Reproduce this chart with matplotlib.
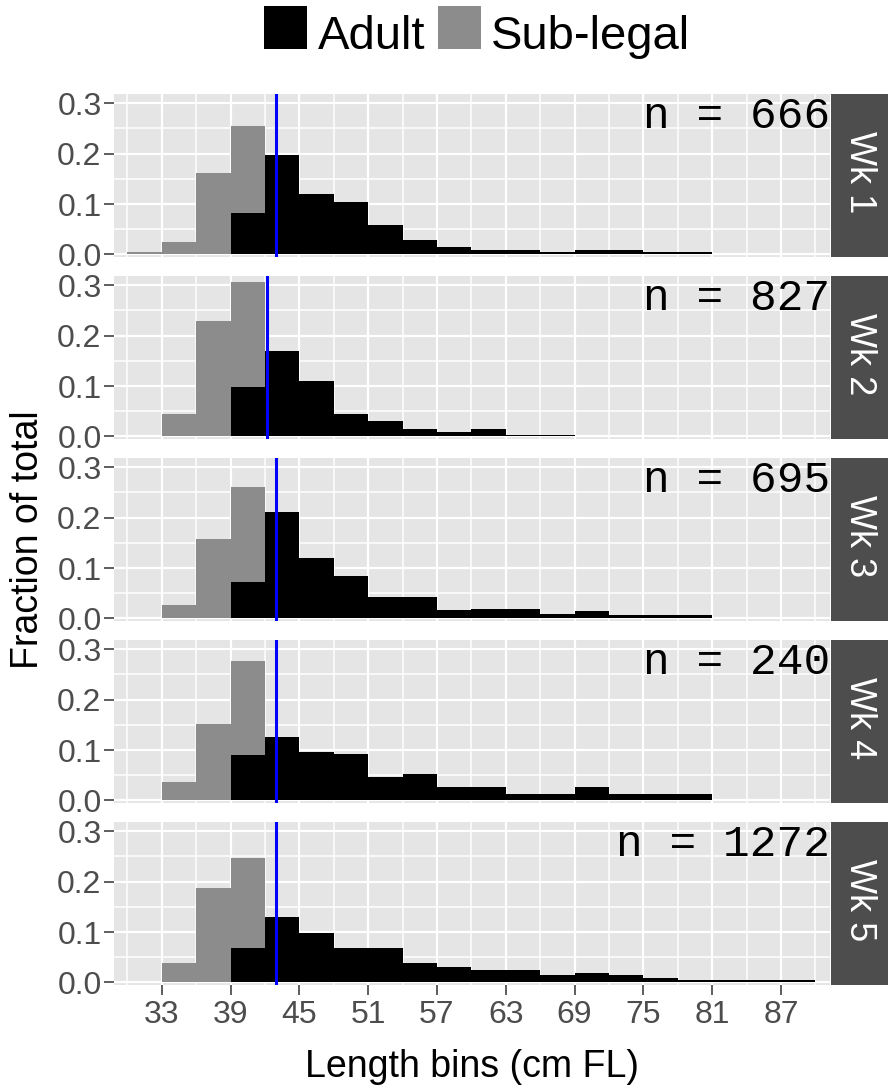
#!/usr/bin/env python

import numpy as np
import matplotlib
matplotlib.use('Agg')
import matplotlib.pyplot as plt
from matplotlib.patches import Rectangle

plt.rcParams['font.family'] = ['Liberation Sans', 'DejaVu Sans']

# length bins (left edge, cm FL), 3 cm wide
bin_left = [30, 33, 36, 39, 42, 45, 48, 51, 54, 57, 60, 63, 66, 69, 72, 75, 78, 81, 84, 87]

weeks = ['Wk 1', 'Wk 2', 'Wk 3', 'Wk 4', 'Wk 5']
n_fish = [666, 827, 695, 240, 1272]
cutoff = [43.0, 42.2, 43.0, 43.0, 43.0]

sub_wk1 = [0.005, 0.025, 0.162, 0.172, 0, 0, 0, 0, 0, 0, 0, 0, 0, 0, 0, 0, 0, 0, 0, 0]
adult_wk1 = [0, 0, 0, 0.0825, 0.198, 0.119, 0.1035, 0.058, 0.029, 0.015, 0.009, 0.009, 0.005,
             0.0085, 0.0085, 0.005, 0.005, 0, 0, 0]

sub_wk2 = [0, 0.0446, 0.2295, 0.2076, 0, 0, 0, 0, 0, 0, 0, 0, 0, 0, 0, 0, 0, 0, 0, 0]
adult_wk2 = [0, 0, 0, 0.0978, 0.170, 0.110, 0.045, 0.030, 0.014, 0.008, 0.014, 0.0033, 0.0033,
             0, 0, 0, 0, 0, 0, 0]

sub_wk3 = [0, 0.026, 0.158, 0.187, 0, 0, 0, 0, 0, 0, 0, 0, 0, 0, 0, 0, 0, 0, 0, 0]
adult_wk3 = [0, 0, 0, 0.0727, 0.211, 0.119, 0.084, 0.042, 0.042, 0.016, 0.0195, 0.0195, 0.0097,
             0.0156, 0.0065, 0.0065, 0.0065, 0, 0, 0]

sub_wk4 = [0, 0.036, 0.151, 0.187, 0, 0, 0, 0, 0, 0, 0, 0, 0, 0, 0, 0, 0, 0, 0, 0]
adult_wk4 = [0, 0, 0, 0.0896, 0.125, 0.0956, 0.0916, 0.0464, 0.0518, 0.0259, 0.0259, 0.0125, 0.0125,
             0.0259, 0.0125, 0.0125, 0.0125, 0, 0, 0]

sub_wk5 = [0, 0.0386, 0.188, 0.179, 0, 0, 0, 0, 0, 0, 0, 0, 0, 0, 0, 0, 0, 0, 0, 0]
adult_wk5 = [0, 0, 0, 0.068, 0.129, 0.0976, 0.068, 0.068, 0.0386, 0.031, 0.025, 0.025, 0.0157,
             0.019, 0.0157, 0.0092, 0.0046, 0.0046, 0.0046, 0.0046]

sub_all = [sub_wk1, sub_wk2, sub_wk3, sub_wk4, sub_wk5]
adult_all = [adult_wk1, adult_wk2, adult_wk3, adult_wk4, adult_wk5]

W, H = 888, 1089
fig = plt.figure(figsize=(W / 100, H / 100), dpi=100)

def fx(px):
    return px / W

def fy(py):
    return 1 - py / H

grey_bar = '#8C8C8C'
left, right = 114, 830
ph = 163

for i in range(5):
    top = 94 + 182 * i
    ax = fig.add_axes([fx(left), fy(top + ph), (right - left) / W, ph / H])
    ax.set_facecolor('#E5E5E5')
    ax.bar(bin_left, adult_all[i], width=3, align='edge', color='black', linewidth=0)
    ax.bar(bin_left, sub_all[i], width=3, align='edge', bottom=adult_all[i], color=grey_bar, linewidth=0)
    ax.axvline(cutoff[i], color='blue', lw=2.2)
    ax.set_xlim(28.84, 91.27)
    ax.set_ylim(-0.005, 0.318)
    ax.set_xticks(np.arange(33, 90, 6))
    ax.set_xticks(np.arange(30, 91, 6), minor=True)
    ax.set_yticks([0, 0.1, 0.2, 0.3])
    ax.set_yticks([0.05, 0.15, 0.25], minor=True)
    ax.set_yticklabels(['0.0', '0.1', '0.2', '0.3'])
    ax.set_axisbelow(True)
    ax.grid(which='major', color='white', lw=1.6)
    ax.grid(which='minor', color='white', lw=1.1)
    for s in ax.spines.values():
        s.set_visible(False)
    ax.tick_params(which='major', length=7, width=1.1, color='#333333',
                   labelsize=23, labelcolor='#4D4D4D', pad=2)
    ax.tick_params(which='minor', length=0)
    if i < 4:
        ax.tick_params(axis='x', which='major', bottom=False, labelbottom=False)
    else:
        ax.tick_params(axis='x', pad=4)
    ax.text(1.0, 1 - 34.5 / ph, 'n = %d' % n_fish[i], transform=ax.transAxes,
            ha='right', va='baseline', fontsize=32, family='Liberation Mono', color='black')

    # facet strip
    fig.add_artist(Rectangle((fx(831), fy(top + ph)), (W - 831) / W, ph / H,
                             transform=fig.transFigure, color='#4D4D4D', lw=0))
    fig.text(fx(859.5), fy(top + ph / 2 - 3), weeks[i], rotation=-90, ha='center', va='center',
             color='white', fontsize=26)

# axis titles
fig.text(fx(472), fy(1077), 'Length bins (cm FL)', ha='center', va='baseline', fontsize=27)
fig.text(fx(28), fy(540), 'Fraction of total', ha='center', va='center', rotation=90, fontsize=27)

# legend on top
fig.add_artist(Rectangle((fx(264), fy(49)), 43 / W, 43 / H, transform=fig.transFigure,
                         color='black', lw=0))
fig.text(fx(318), fy(49), 'Adult', ha='left', va='baseline', fontsize=34)
fig.add_artist(Rectangle((fx(438), fy(49)), 43 / W, 43 / H, transform=fig.transFigure,
                         color=grey_bar, lw=0))
fig.text(fx(491), fy(49), 'Sub-legal', ha='left', va='baseline', fontsize=34)

fig.savefig('out.png', dpi=100, facecolor='white')
